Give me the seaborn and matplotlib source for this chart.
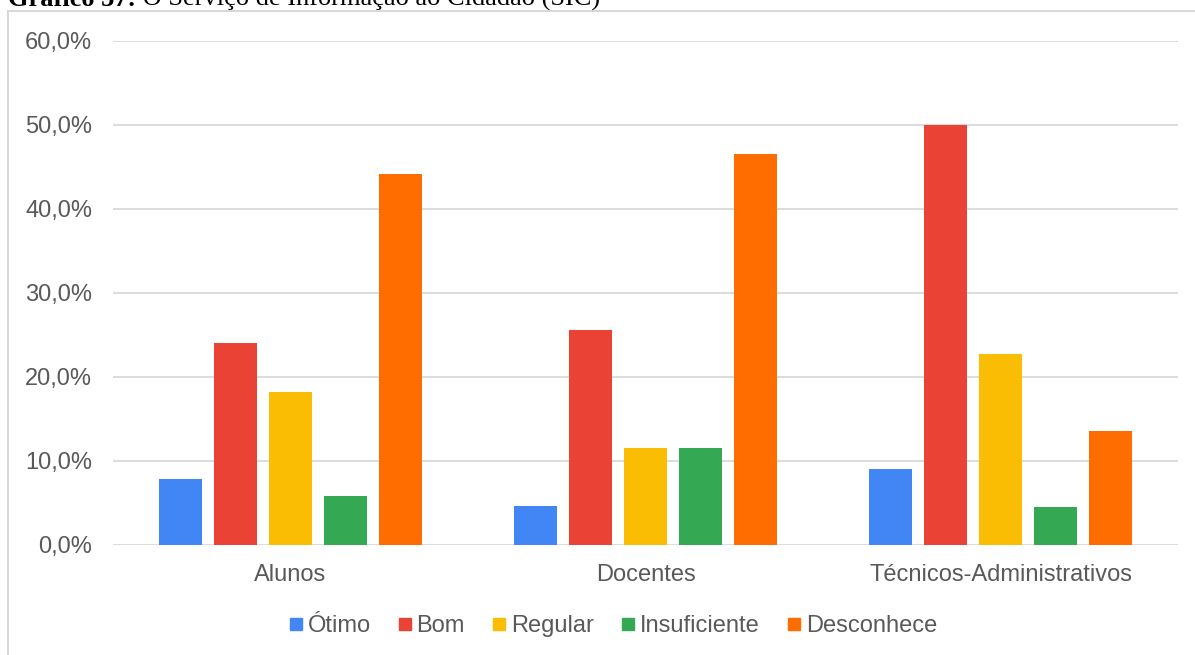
import matplotlib
matplotlib.use("Agg")
import matplotlib.pyplot as plt
import seaborn as sns
import pandas as pd
from matplotlib.lines import Line2D
from matplotlib.ticker import FuncFormatter

categories = ["Alunos", "Docentes", "Técnicos-Administrativos"]
series = ["Ótimo", "Bom", "Regular", "Insuficiente", "Desconhece"]
otimo = [7.8, 4.65, 9.09]
bom = [24.0, 25.6, 50.0]
regular = [18.2, 11.6, 22.7]
insuficiente = [5.85, 11.6, 4.55]
desconhece = [44.2, 46.5, 13.6]
yticks = [0, 10, 20, 30, 40, 50, 60]
colors = ["#4285F4", "#EA4335", "#FBBC04", "#34A853", "#FF6D01"]
title_bold = "Gráfico 37:"
title_rest = " O Serviço de Informação ao Cidadão (SIC)"

values = [otimo, bom, regular, insuficiente, desconhece]
rows = []
for s, vals in zip(series, values):
    for c, v in zip(categories, vals):
        rows.append({"cat": c, "serie": s, "val": v})
df = pd.DataFrame(rows)

sns.set_theme(style="white")
plt.rcParams["font.family"] = ["Liberation Sans", "DejaVu Sans"]

W, H = 1195, 655
fig = plt.figure(figsize=(W / 100, H / 100), dpi=100)
ax = fig.add_axes([113 / W, 1 - 545 / H, (1178 - 113) / W, (545 - 41) / H])

sns.barplot(data=df, x="cat", y="val", hue="serie", order=categories,
            hue_order=series, palette=colors, width=0.773, gap=0.214,
            ax=ax, legend=False, saturation=1, edgecolor="none")

ax.set_xlim(-0.5, 2.5)
ax.set_ylim(0, 60)
ax.set_yticks(yticks)
ax.yaxis.set_major_formatter(FuncFormatter(lambda v, p: f"{v:.1f}%".replace(".", ",")))
ax.grid(axis="y", color="#d9d9d9", linewidth=1.3)
ax.set_axisbelow(True)
for sp in ax.spines.values():
    sp.set_visible(False)
ax.set_xlabel("")
ax.set_ylabel("")
ax.tick_params(axis="both", length=0, labelsize=17, labelcolor="#595959")
ax.tick_params(axis="y", pad=15)
ax.tick_params(axis="x", pad=14)

handles = [Line2D([0], [0], marker="s", linestyle="none", markersize=9,
                  markerfacecolor=c, markeredgecolor=c) for c in colors]
leg = fig.legend(handles, series, loc="center", bbox_to_anchor=(611 / W, 1 - 626 / H),
                 ncol=5, frameon=False, fontsize=17, handletextpad=0.05,
                 columnspacing=1.0, handlelength=0.9, labelcolor="#595959")

# outer frame
fig.add_artist(Line2D([8 / W, 8 / W], [0, 1 - 11 / H], transform=fig.transFigure,
                      color="#d9d9d9", linewidth=1.5))
fig.add_artist(Line2D([8 / W, 1], [1 - 11 / H, 1 - 11 / H], transform=fig.transFigure,
                      color="#d9d9d9", linewidth=1.5))

# cropped title (as in the reference, only its lower part is visible)
t1 = fig.text(8 / W, 1 - 6 / H, title_bold, fontsize=19, fontweight="bold",
              family=["Liberation Serif", "DejaVu Serif"], va="baseline", ha="left", color="black")
fig.canvas.draw()
bb = t1.get_window_extent(fig.canvas.get_renderer())
fig.text(bb.x1 / W, 1 - 6 / H, title_rest, fontsize=19,
         family=["Liberation Serif", "DejaVu Serif"], va="baseline", ha="left", color="black")

fig.savefig("out.png", dpi=100)
